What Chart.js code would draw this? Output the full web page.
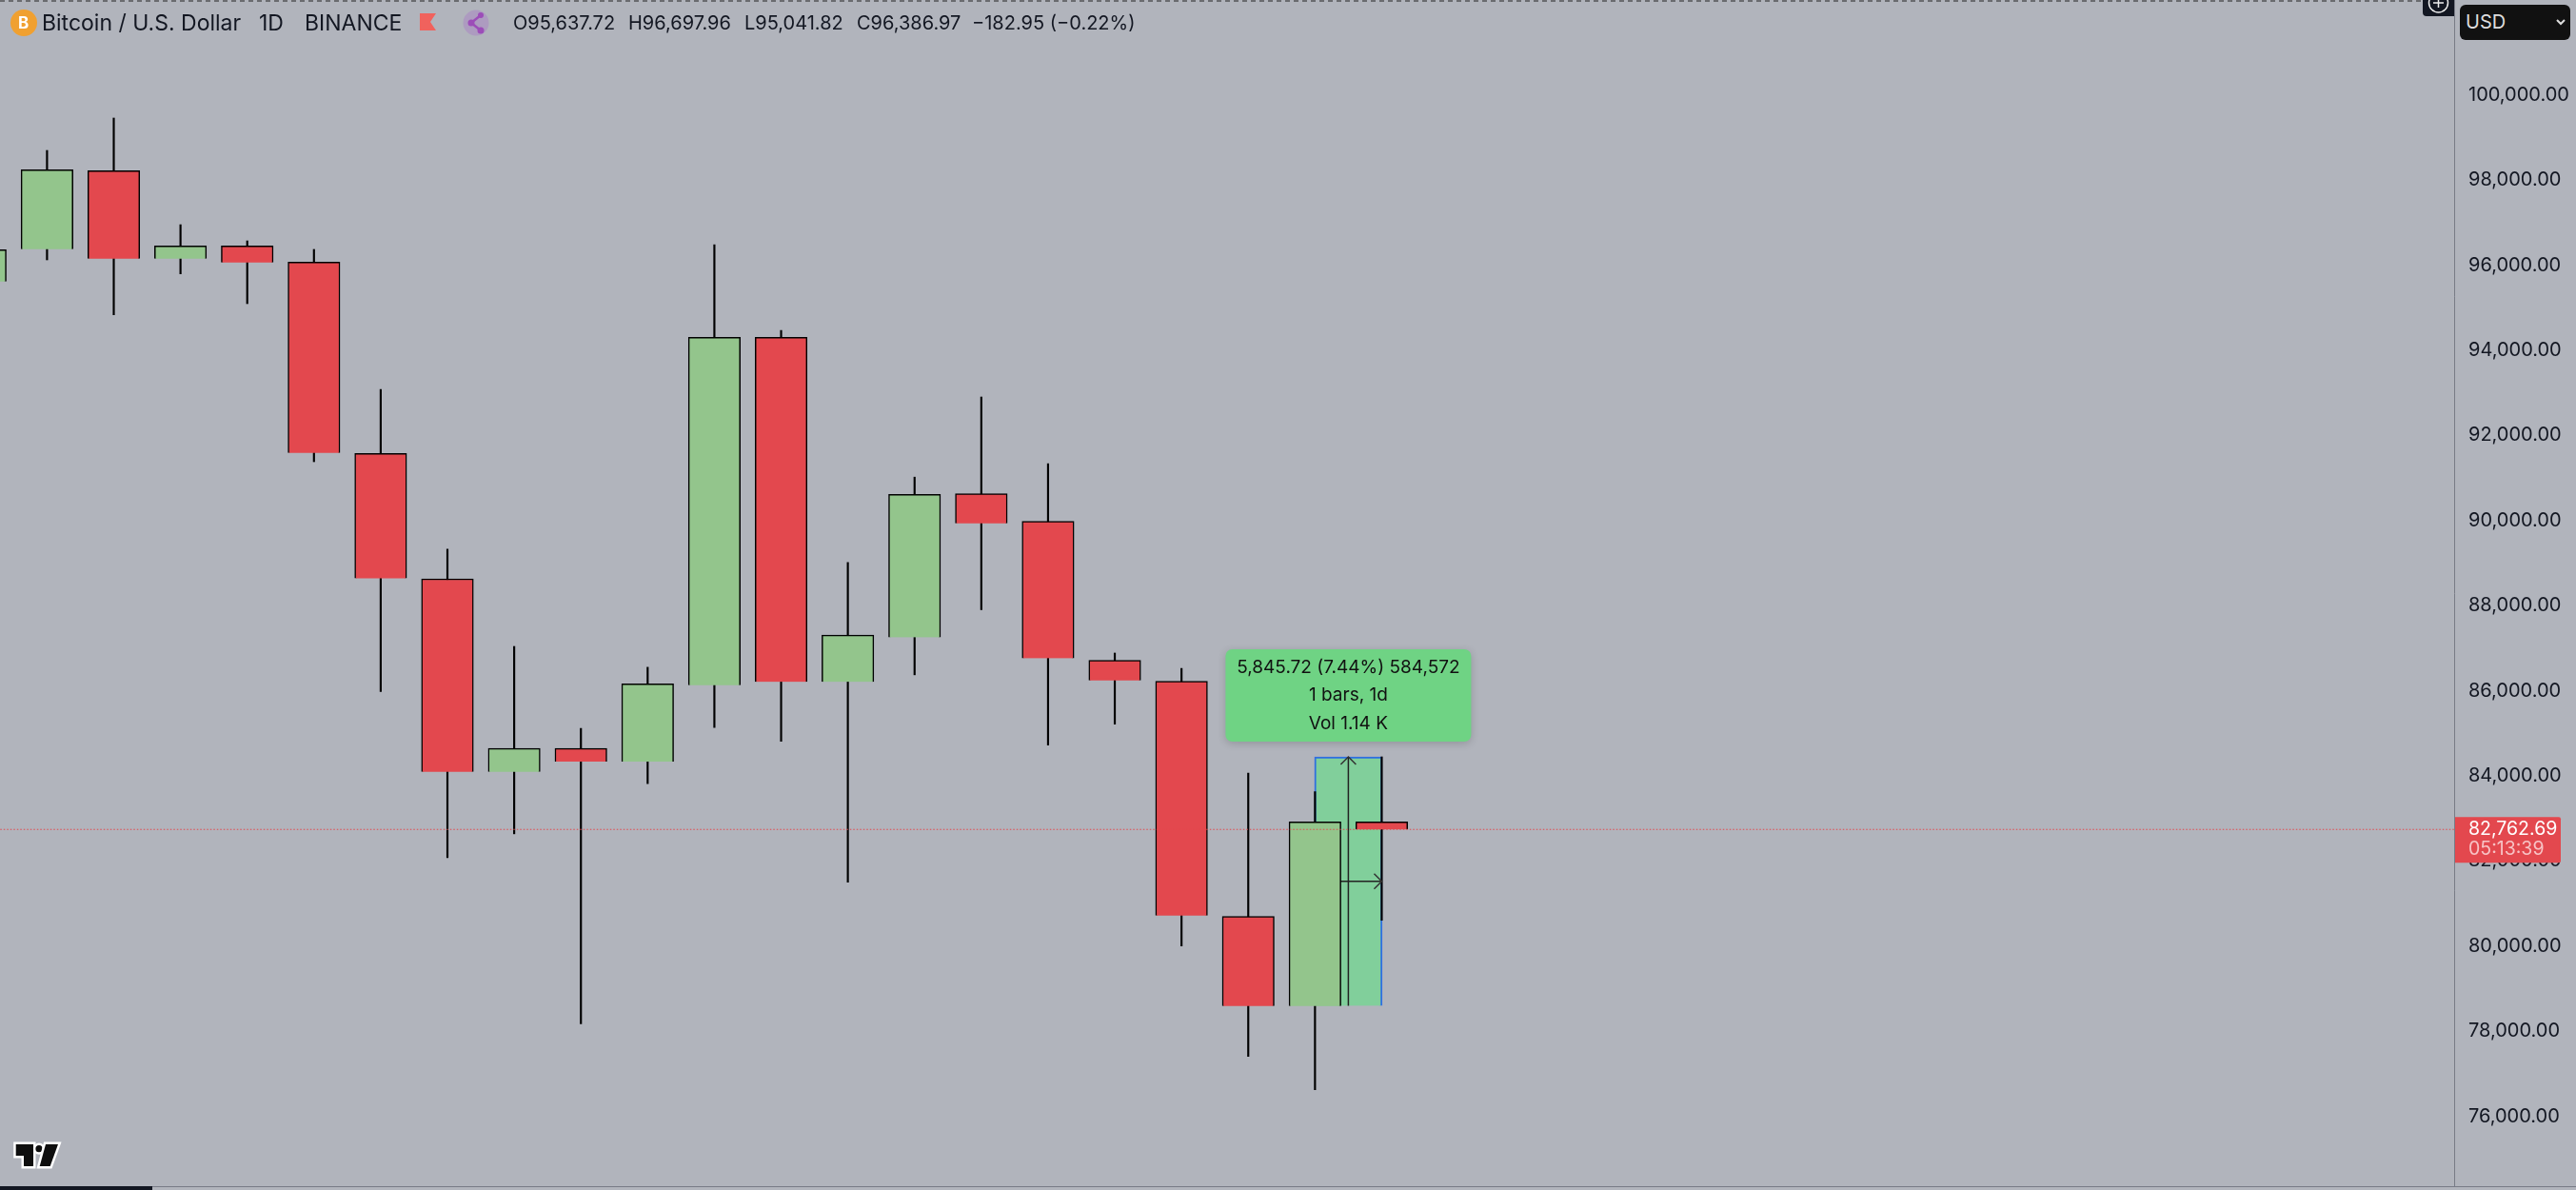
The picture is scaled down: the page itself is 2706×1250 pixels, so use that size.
<!DOCTYPE html>
<html>
<head>
<meta charset="utf-8">
<title>Bitcoin / U.S. Dollar</title>
<script src="https://cdn.jsdelivr.net/npm/chart.js@4"></script>
<style>
  html, body { margin: 0; padding: 0; background: #b1b4bc; overflow: hidden; }
  #wrap { position: relative; width: 2706px; height: 1250px; font-family: Inter, "Noto Sans", sans-serif; color: #131722; }
  canvas { position: absolute; left: 0; top: 0; }
  .hd { position: absolute; top: 10px; line-height: 28px; white-space: nowrap; }
  .big { font-size: 23px; }
  .ohlc { font-size: 20px; }
  #usd { position: absolute; left: 2584px; top: 5px; width: 116px; height: 37px; background: #111; border-radius: 6px; color: #ddd; font-size: 20px; line-height: 37px; text-indent: 6px; }
  svg { position: absolute; left: 0; top: 0; }
</style>
</head>
<body>
<div id="wrap">
  <canvas id="chart" width="2706" height="1250"></canvas>
  <div id="usd">USD</div>
  <svg width="2706" height="1250">
    <!-- icones de l'entete -->
    <circle cx="25" cy="24" r="14" fill="#f0a030"/>
    <polygon points="441,14 458,14 452,23 458,32 441,32" fill="#f0625d"/>
    <circle cx="500" cy="24" r="13.5" fill="#ad9bc0"/>
    <path d="M505 16 L495 24 L505 32" fill="none" stroke="#9c4db8" stroke-width="2.5"/>
    <circle cx="505" cy="16" r="3" fill="#9c4db8"/><circle cx="495" cy="24" r="3.5" fill="#9c4db8"/><circle cx="505" cy="32" r="3.5" fill="#9c4db8"/>
    <!-- bouton plus en haut a droite -->
    <path d="M2545 0 H2578 V17 H2549 Q2545 17 2545 13 Z" fill="#131722"/>
    <circle cx="2561.5" cy="3" r="10" fill="none" stroke="#eee" stroke-width="1.5"/>
    <path d="M2561.5 0 V8 M2556 3 H2567" stroke="#eee" stroke-width="1.5"/>
    <!-- chevron USD -->
    <path d="M2686 21 L2690 25 L2694 21" fill="none" stroke="#ddd" stroke-width="2"/>
    <!-- logo -->
    <g fill="#0e0e0e" stroke="#fff" stroke-width="5" paint-order="stroke" stroke-linejoin="miter">
      <path d="M16.7 1202 H35 V1225 H25 V1214 H16.7 Z"/>
      <circle cx="41" cy="1206.7" r="3.6"/>
      <path d="M48 1202 H61 L52.7 1225 H41.7 Z"/>
    </g>
  </svg>
  <span class="hd" style="left:19px;top:10px;font-size:17px;font-weight:700;color:#fff;">B</span>
  <span class="hd big" style="left:44px">Bitcoin / U.S. Dollar</span>
  <span class="hd big" style="left:272px">1D</span>
  <span class="hd big" style="left:320px">BINANCE</span>
  <span class="hd ohlc" style="left:539px">O95,637.72</span>
  <span class="hd ohlc" style="left:660px">H96,697.96</span>
  <span class="hd ohlc" style="left:782px">L95,041.82</span>
  <span class="hd ohlc" style="left:900px">C96,386.97</span>
  <span class="hd ohlc" style="left:1021px">−182.95 (−0.22%)</span>
</div>

<script>
// bougies journalieres
const candleIndex = [0, 1, 2, 3, 4, 5, 6, 7, 8, 9, 10, 11, 12, 13, 14, 15, 16, 17, 18, 19, 20, 21];
const opens = [95637.72, 96398, 98242, 96175, 96475, 96094, 91598, 88652, 84117, 84665, 84357, 86149, 94327, 86229, 87276, 90652, 90003, 86739, 86247, 80719, 78614, 82941];
const highs = [96697.96, 98718, 99479, 96973, 96593, 96392, 93103, 89350, 87063, 85135, 86574, 96504, 94490, 89034, 91041, 92924, 91358, 86907, 86544, 84086, 83648, 84468];
const lows = [95041.82, 96146, 94855, 95817, 95117, 91403, 86005, 82100, 82659, 78196, 83838, 85160, 84831, 81525, 86395, 87925, 84744, 85236, 80023, 77429, 76646, 80628];
const closes = [96386.97, 98264, 96175, 96475, 96085, 91611, 88661, 84117, 84665, 84357, 86184, 94327, 86229, 87327, 90634, 89956, 86784, 86265, 80737, 78614, 82941, 82762.69];
const yTicks = [76000, 78000, 80000, 82000, 84000, 86000, 88000, 90000, 92000, 94000, 96000, 98000, 100000];

const lastPrice = 82762.69;
const countdown = "05:13:39";
const measureFrom = 78621;
const measureTo = 84466.72;
const measureX = [20, 21];
const measureLines = ["5,845.72 (7.44%) 584,572", "1 bars, 1d", "Vol 1.14 K"];

const UP = "#93c58c";
const DOWN = "#e3484e";
const FONT = "Inter, 'Noto Sans', sans-serif";

// dessus du graphique : fleches, bulle de mesure, etiquette du prix, bords
const overlayPlugin = {
  id: "overlay",
  afterDatasetsDraw(chart) {
    const c = chart.ctx;
    const x = chart.scales.x;
    const y = chart.scales.y;
    const midX = x.getPixelForValue((measureX[0] + measureX[1]) / 2);
    const rightX = x.getPixelForValue(measureX[1]);
    const topY = y.getPixelForValue(measureTo);
    const midY = y.getPixelForValue((measureFrom + measureTo) / 2);

    // pointes de fleche
    c.save();
    c.strokeStyle = "#333";
    c.lineWidth = 1.5;
    c.beginPath();
    c.moveTo(midX - 8, topY + 8);
    c.lineTo(midX, topY);
    c.lineTo(midX + 8, topY + 8);
    c.moveTo(rightX - 8, midY - 8);
    c.lineTo(rightX, midY);
    c.lineTo(rightX - 8, midY + 8);
    c.stroke();

    // bulle verte
    c.shadowColor = "rgba(0,0,0,0.18)";
    c.shadowBlur = 8;
    c.shadowOffsetY = 2;
    c.fillStyle = "#6fd384";
    c.beginPath();
    c.roundRect(midX - 129, topY - 113, 258, 97, 7);
    c.fill();
    c.shadowColor = "transparent";
    c.fillStyle = "#111";
    c.font = "19px " + FONT;
    c.textAlign = "center";
    c.textBaseline = "middle";
    measureLines.forEach((t, i) => c.fillText(t, midX, topY - 94 + i * 29.5));

    // ligne du bas et ligne pointillee du haut
    c.fillStyle = "#787b86";
    c.fillRect(0, 1246, 2706, 1);
    c.fillStyle = "#131722";
    c.fillRect(0, 1246, 160, 4);
    c.strokeStyle = "#222";
    c.lineWidth = 1;
    c.setLineDash([5, 4]);
    c.beginPath();
    c.moveTo(0, 1);
    c.lineTo(2545, 1);
    c.stroke();
    c.setLineDash([]);

    // etiquette du dernier prix
    const py = y.getPixelForValue(lastPrice);
    c.fillStyle = DOWN;
    c.beginPath();
    c.roundRect(2579, py - 13, 111, 48, [0, 2, 2, 0]);
    c.fill();
    c.font = "19.5px " + FONT;
    c.textAlign = "left";
    c.fillStyle = "#fff";
    c.fillText(lastPrice.toLocaleString("en-US", { minimumFractionDigits: 2 }), 2593, py);
    c.fillStyle = "#f7c3c5";
    c.fillText(countdown, 2593, py + 21);
    c.restore();
  },
};

new Chart(document.getElementById("chart").getContext("2d"), {
  data: {
    datasets: [
      {
        type: "line",
        data: [{ x: 0, y: lastPrice }, { x: 38, y: lastPrice }],
        borderColor: DOWN,
        borderWidth: 1,
        borderDash: [1.5, 2],
        pointRadius: 0,
        order: 0,
      },
      {
        type: "bar",
        data: candleIndex.map((i, k) => ({ x: i, y: [opens[k], closes[k]] })),
        backgroundColor: closes.map((v, k) => (v >= opens[k] ? UP : DOWN)),
        borderColor: "#000",
        borderWidth: 1.5,
        barThickness: 54.5,
        order: 1,
      },
      {
        type: "bar",
        data: candleIndex.map((i, k) => ({ x: i, y: [lows[k], highs[k]] })),
        backgroundColor: "#000",
        barThickness: 1.5,
        order: 2,
      },
      {
        type: "line",
        data: [{ x: 20.5, y: measureFrom }, { x: 20.5, y: measureTo }],
        borderColor: "#222",
        borderWidth: 1.5,
        pointRadius: 0,
        order: 3,
      },
      {
        type: "line",
        data: [
          { x: measureX[0], y: (measureFrom + measureTo) / 2 },
          { x: measureX[1], y: (measureFrom + measureTo) / 2 },
        ],
        borderColor: "#222",
        borderWidth: 1.5,
        pointRadius: 0,
        order: 3,
      },
      {
        type: "bar",
        data: [{ x: 20.5, y: [measureFrom, measureTo] }],
        backgroundColor: "#81cf9b",
        borderColor: "#2f6fe0",
        borderWidth: 2,
        barThickness: 71,
        order: 4,
      },
    ],
  },
  options: {
    responsive: false,
    animation: false,
    layout: { padding: { bottom: 4 } },
    datasets: { bar: { grouped: false } },
    plugins: { legend: { display: false }, tooltip: { enabled: false } },
    scales: {
      x: { type: "linear", display: false, offset: false, min: 0.2953, max: 37.07 },
      y: {
        position: "right",
        min: 74379,
        max: 102252.7,
        afterFit(axis) {
          axis.width = 128;
          // pas de marge pour les libelles du haut et du bas
          axis.paddingTop = 0;
          axis.paddingBottom = 0;
        },
        afterBuildTicks(axis) {
          axis.ticks = yTicks.map((v) => ({ value: v }));
        },
        grid: { display: false, drawTicks: false },
        border: { display: true, color: "#787b86", width: 1 },
        ticks: {
          padding: 15,
          labelOffset: -1,
          color: "#131722",
          font: { family: FONT, size: 20 },
          callback: (v) => v.toLocaleString("en-US", { minimumFractionDigits: 2 }),
        },
      },
    },
  },
  plugins: [overlayPlugin],
});
</script>
</body>
</html>
